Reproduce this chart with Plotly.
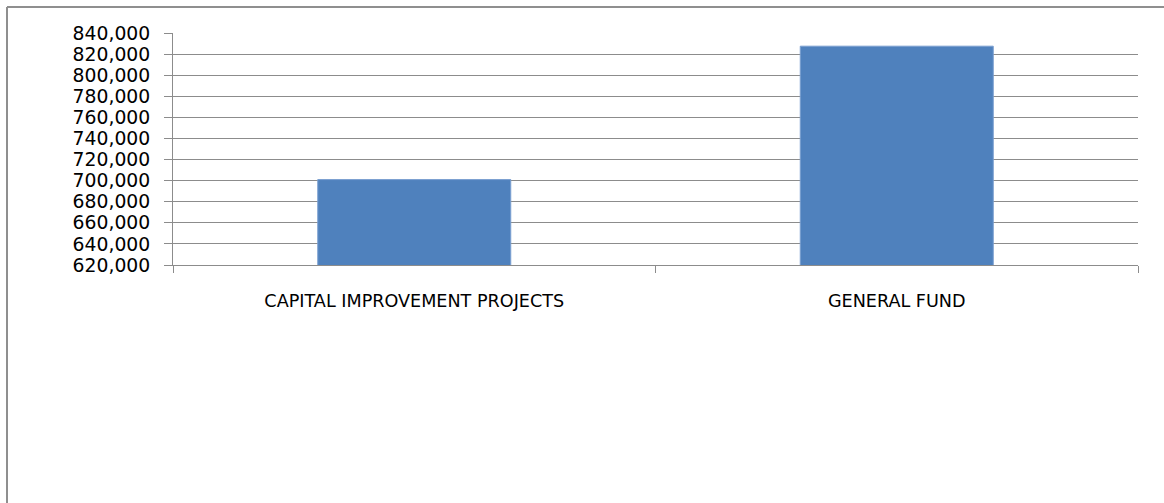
import plotly.graph_objects as go

# Fund totals
categories = ["CAPITAL IMPROVEMENT PROJECTS", "GENERAL FUND"]
amounts = [701000, 827500]

y_min, y_max, y_step = 620000, 840000, 20000

grid_color = "#8c8c8c"
bar_color = "#4f81bd"
frame_color = "#8f8f8f"

# plot area in pixels: x 173..1138, y 33..265
plot_w, plot_h = 965, 232
frame_x = (7 - 173) / plot_w
frame_y = (265 - 7) / plot_h

fig = go.Figure(
    go.Bar(
        x=categories,
        y=amounts,
        width=0.4,
        marker=dict(color=bar_color, line=dict(color="#7a9fd0", width=1)),
        hoverinfo="x+y",
    )
)

fig.update_layout(
    width=1164,
    height=503,
    margin=dict(l=173, r=26, t=33, b=238),
    paper_bgcolor="white",
    plot_bgcolor="white",
    showlegend=False,
    font=dict(family="DejaVu Sans, sans-serif", color="#000000"),
    shapes=[
        # chart frame: top edge
        dict(type="line", xref="paper", yref="paper",
             x0=frame_x, x1=1.2, y0=frame_y, y1=frame_y,
             line=dict(color=frame_color, width=2)),
        # chart frame: left edge
        dict(type="line", xref="paper", yref="paper",
             x0=frame_x, x1=frame_x, y0=frame_y, y1=-1.2,
             line=dict(color=frame_color, width=2)),
    ],
)

fig.update_xaxes(
    type="category",
    showgrid=False,
    showline=True,
    linecolor=grid_color,
    linewidth=1,
    ticks="outside",
    tickson="boundaries",
    ticklen=7,
    tickcolor=grid_color,
    tickfont=dict(size=17.6),
    ticklabelstandoff=20,
)

fig.update_yaxes(
    range=[y_min, y_max],
    tick0=y_min,
    dtick=y_step,
    tickformat=",d",
    showgrid=True,
    gridcolor=grid_color,
    gridwidth=1,
    showline=True,
    linecolor=grid_color,
    linewidth=1,
    ticks="outside",
    ticklen=8,
    tickcolor=grid_color,
    tickfont=dict(size=18.8),
    ticklabelstandoff=10,
    zeroline=False,
)

fig.write_html("out.html")
